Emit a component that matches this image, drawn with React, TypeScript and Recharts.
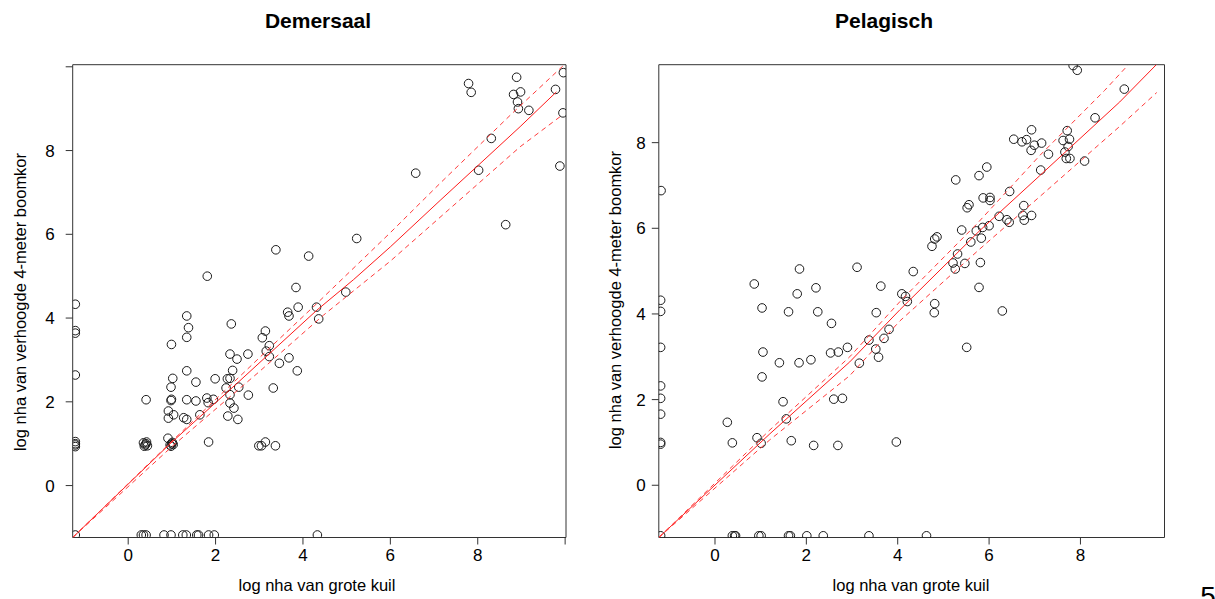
import { ScatterChart, Scatter, XAxis, YAxis } from "recharts";

// points (log nha grote kuil, log nha boomkor)
const demersaalPoints: [number, number][] = [
  [7.79, 9.6], [7.85, 9.39], [8.89, 9.75], [8.82, 9.34], [8.98, 9.4], [8.91, 9.16],
  [8.93, 9.0], [9.17, 8.96], [9.96, 9.86], [9.78, 9.46], [9.95, 8.9], [8.31, 8.29],
  [8.02, 7.53], [6.58, 7.46], [9.88, 7.63], [8.64, 6.23], [5.23, 5.9], [3.38, 5.63],
  [4.13, 5.48], [1.81, 5.0], [3.84, 4.73], [4.98, 4.62],
  [-1.21, 4.33], [-1.21, 3.7], [-1.21, 3.64], [-1.21, 2.64], [-1.21, 1.05], [-1.21, 1.0],
  [-1.21, 0.97], [-1.21, 0.93], [-1.21, -1.18],
  [0.35, 1.02], [0.39, 0.97], [0.42, 1.04], [0.44, 0.95], [0.37, 0.94], [0.41, 1.0],
  [0.41, 2.05],
  [0.96, 0.97], [1.0, 1.0], [1.03, 0.98], [0.98, 0.94], [1.01, 1.03], [0.91, 1.13],
  [0.92, 1.78], [0.92, 1.61], [1.04, 1.69], [0.98, 2.03], [0.99, 2.06], [1.02, 2.56],
  [0.98, 2.35], [0.99, 3.37],
  [1.34, 4.05], [1.38, 3.77], [1.34, 3.54], [1.34, 2.74], [1.34, 2.05], [1.27, 1.62],
  [1.34, 1.58],
  [1.55, 2.47], [1.55, 2.02], [1.64, 1.69], [1.8, 2.09], [1.83, 1.98], [1.95, 2.06],
  [1.84, 1.04], [1.99, 2.55],
  [2.36, 3.86], [2.33, 3.14], [2.49, 3.02], [2.74, 3.14], [2.39, 2.75], [2.27, 2.55],
  [2.33, 2.56], [2.24, 2.33], [2.33, 2.17], [2.53, 2.35], [2.33, 1.97], [2.42, 1.85],
  [2.28, 1.66], [2.51, 1.58], [2.75, 2.16],
  [3.07, 3.53], [3.14, 3.69], [3.23, 3.34], [3.16, 3.21], [3.23, 3.08], [3.46, 2.92],
  [3.32, 2.33], [3.68, 3.05], [3.87, 2.74], [3.65, 4.14], [3.68, 4.05], [3.89, 4.26],
  [4.31, 4.26], [4.36, 3.98],
  [2.99, 0.95], [3.05, 0.95], [3.14, 1.04], [3.37, 0.95],
  [0.3, -1.18], [0.35, -1.18], [0.41, -1.18], [0.82, -1.18], [0.98, -1.18], [1.25, -1.18],
  [1.33, -1.18], [1.57, -1.18], [1.61, -1.18], [1.84, -1.18], [1.97, -1.18], [4.33, -1.18],
];

const pelagischPoints: [number, number][] = [
  [-1.18, 6.88], [7.84, 9.8], [7.93, 9.69], [8.96, 9.25], [8.32, 8.58], [6.93, 8.3],
  [6.54, 8.08], [6.72, 8.02], [6.82, 8.07], [6.99, 7.94], [7.15, 7.99], [6.92, 7.82],
  [7.3, 7.73], [7.13, 7.36], [7.71, 8.28], [7.62, 8.05], [7.76, 8.08], [7.73, 7.91],
  [7.66, 7.78], [7.69, 7.63], [7.77, 7.63], [8.09, 7.57], [5.95, 7.43], [5.78, 7.23],
  [5.27, 7.13], [5.87, 6.71], [6.02, 6.72], [6.02, 6.65], [6.45, 6.86], [5.56, 6.55],
  [5.52, 6.48], [6.76, 6.53], [6.22, 6.28], [6.39, 6.2], [6.44, 6.14], [6.74, 6.3],
  [6.93, 6.3], [6.77, 6.19], [6.0, 6.06], [5.86, 6.02], [5.72, 5.94], [5.4, 5.96],
  [5.83, 5.77], [5.6, 5.68], [4.86, 5.8], [4.81, 5.75], [4.75, 5.58], [5.31, 5.4],
  [5.21, 5.19], [5.47, 5.18], [5.81, 5.2], [5.26, 5.05], [5.78, 4.62], [4.34, 4.99],
  [3.11, 5.09], [1.85, 5.05], [0.86, 4.7], [2.21, 4.61], [1.8, 4.47], [3.63, 4.65],
  [4.09, 4.47], [4.17, 4.41],
  [-1.19, 4.32], [-1.19, 4.06], [-1.19, 3.22], [-1.19, 2.32], [-1.19, 2.03], [-1.19, 1.66],
  [-1.19, 1.0], [-1.19, 0.96], [-1.19, -1.18],
  [1.03, 4.14], [1.61, 4.05], [2.25, 4.05], [2.55, 3.78], [1.05, 3.11], [1.41, 2.86],
  [1.84, 2.86], [2.1, 2.93], [1.03, 2.53], [2.53, 3.09], [2.7, 3.11], [2.9, 3.22],
  [3.16, 2.85], [3.37, 3.39], [3.52, 3.18], [3.58, 2.99], [3.7, 3.43], [3.81, 3.64],
  [3.53, 4.03], [4.21, 4.29], [4.81, 4.24], [4.8, 4.03], [6.29, 4.07], [5.51, 3.22],
  [1.49, 1.95], [1.56, 1.55], [0.27, 1.47], [0.38, 0.99], [0.92, 1.11], [1.01, 0.98],
  [1.67, 1.04], [2.16, 0.93], [2.69, 0.93], [2.6, 2.01], [2.79, 2.03], [3.97, 1.01],
  [0.38, -1.18], [0.43, -1.18], [0.45, -1.18], [0.96, -1.18], [1.01, -1.18], [1.61, -1.18],
  [1.65, -1.18], [2.01, -1.18], [2.37, -1.18], [3.37, -1.18], [4.63, -1.18],
];

// fitted line and its band
const demersaalFit: [number, number][] = [
  [-1.27, -1.24], [0.96, 1.0], [2.5, 2.45], [4.32, 4.19], [5.16, 4.92], [6.0, 5.7],
  [7.14, 6.81], [8.97, 8.57], [9.8, 9.4],
];
const demersaalUpper: [number, number][] = [
  [-1.27, -1.24], [1.0, 1.06], [3.0, 3.05], [4.32, 4.35], [6.0, 6.04], [7.14, 7.22],
  [8.78, 8.88], [9.96, 10.03],
];
const demersaalLower: [number, number][] = [
  [-1.27, -1.24], [1.0, 0.93], [3.0, 2.72], [4.47, 4.07], [6.0, 5.36], [7.37, 6.62],
  [8.97, 8.09], [9.95, 8.86],
];

const pelagischFit: [number, number][] = [
  [-1.23, -1.22], [1.2, 1.2], [2.95, 2.88], [4.05, 4.1], [5.8, 5.95], [7.11, 7.23],
  [8.86, 8.95], [9.67, 9.83],
];
const pelagischUpper: [number, number][] = [
  [-1.23, -1.22], [1.2, 1.29], [2.95, 3.0], [4.05, 4.29], [5.73, 6.1], [7.11, 7.7],
  [8.53, 9.22], [9.04, 9.81],
];
const pelagischLower: [number, number][] = [
  [-1.23, -1.22], [1.2, 1.06], [2.95, 2.56], [4.05, 3.84], [5.8, 5.52], [7.11, 6.74],
  [8.86, 8.38], [9.67, 9.17],
];

const demersaalTicks = [0, 2, 4, 6, 8, 10];
const pelagischTicks = [0, 2, 4, 6, 8];

const FONT = "'Liberation Sans', Arial, sans-serif";
const toXY = (pts: [number, number][]) => pts.map(([x, y]) => ({ x, y }));

const OpenCircle = (props: any) => (
  <circle cx={props.cx} cy={props.cy} r={4.3} fill="none" stroke="#1a1a1a" strokeWidth={1} />
);
const NoDot = () => <g />;

const tickStyle = { fontSize: 17, fill: "#000", fontFamily: FONT };
const hideTen = (v: number) => (v === 10 ? "" : String(v));

function Panel(props: {
  left: number;
  width: number;
  margin: { top: number; right: number; bottom: number; left: number };
  xDomain: [number, number];
  yDomain: [number, number];
  ticks: number[];
  yTickMargin: number;
  points: [number, number][];
  fit: [number, number][];
  upper: [number, number][];
  lower: [number, number][];
}) {
  const { xDomain, yDomain, ticks } = props;
  return (
    <div style={{ position: "absolute", left: props.left, top: 0 }}>
      <ScatterChart width={props.width} height={599} margin={props.margin}>
        <XAxis
          xAxisId="b"
          type="number"
          dataKey="x"
          domain={xDomain}
          ticks={ticks}
          allowDataOverflow
          height={30}
          tickSize={7}
          tickMargin={4}
          tick={tickStyle}
          tickFormatter={hideTen}
          stroke="#333"
        />
        <XAxis
          xAxisId="t"
          orientation="top"
          type="number"
          dataKey="x"
          domain={xDomain}
          ticks={ticks}
          allowDataOverflow
          height={10}
          tickSize={7}
          tick={false}
          stroke="#333"
        />
        <YAxis
          yAxisId="l"
          type="number"
          dataKey="y"
          domain={yDomain}
          ticks={ticks}
          allowDataOverflow
          width={50}
          tickSize={7}
          tickMargin={props.yTickMargin}
          tick={tickStyle}
          tickFormatter={hideTen}
          stroke="#333"
        />
        <YAxis
          yAxisId="r"
          orientation="right"
          type="number"
          dataKey="y"
          domain={yDomain}
          ticks={ticks}
          allowDataOverflow
          width={10}
          tickSize={7}
          tick={false}
          stroke="#333"
        />
        <Scatter xAxisId="b" yAxisId="l" data={toXY(props.points)} shape={OpenCircle} isAnimationActive={false} />
        <Scatter xAxisId="b" yAxisId="l" data={toXY(props.fit)} shape={NoDot}
          line={{ stroke: "#ff1a1a", strokeWidth: 1 }} isAnimationActive={false} />
        <Scatter xAxisId="b" yAxisId="l" data={toXY(props.upper)} shape={NoDot}
          line={{ stroke: "#ff3b3b", strokeWidth: 1, strokeDasharray: "5 4" }} isAnimationActive={false} />
        <Scatter xAxisId="b" yAxisId="l" data={toXY(props.lower)} shape={NoDot}
          line={{ stroke: "#ff3b3b", strokeWidth: 1, strokeDasharray: "5 4" }} isAnimationActive={false} />
        <Scatter xAxisId="t" yAxisId="r" data={[]} isAnimationActive={false} />
      </ScatterChart>
    </div>
  );
}

const textAt = (x: number, y: number, extra: any = {}) => ({
  position: "absolute" as const,
  left: x,
  top: y,
  transform: "translate(-50%, -50%)" + (extra.rotate ? " rotate(-90deg)" : ""),
  whiteSpace: "nowrap" as const,
  fontFamily: FONT,
  fontSize: extra.size || 16.5,
  fontWeight: extra.bold ? 700 : 400,
  color: "#000",
});

export default function App() {
  return (
    <div
      style={{
        position: "absolute",
        left: 0,
        top: 0,
        width: 1215,
        height: 599,
        background: "#fff",
        overflow: "hidden",
      }}
    >
      <Panel
        left={0}
        width={600}
        margin={{ top: 54.7, right: 24, bottom: 31.5, left: 22.7 }}
        xDomain={[-1.27, 10.02]}
        yDomain={[-1.24, 10.05]}
        ticks={demersaalTicks}
        yTickMargin={11}
        points={demersaalPoints}
        fit={demersaalFit}
        upper={demersaalUpper}
        lower={demersaalLower}
      />
      <Panel
        left={600}
        width={615}
        margin={{ top: 54.7, right: 40.5, bottom: 31.5, left: 8.8 }}
        xDomain={[-1.23, 9.84]}
        yDomain={[-1.22, 9.82]}
        ticks={pelagischTicks}
        yTickMargin={6}
        points={pelagischPoints}
        fit={pelagischFit}
        upper={pelagischUpper}
        lower={pelagischLower}
      />
      <div style={textAt(318, 21, { bold: true, size: 21 })}>Demersaal</div>
      <div style={textAt(884, 21, { bold: true, size: 21 })}>Pelagisch</div>
      <div style={textAt(317, 585)}>log nha van grote kuil</div>
      <div style={textAt(911, 585)}>log nha van grote kuil</div>
      <div style={textAt(20, 302, { rotate: true })}>log nha van verhoogde 4-meter boomkor</div>
      <div style={textAt(615, 300, { rotate: true })}>log nha van verhoogde 4-meter boomkor</div>
      <div style={textAt(1208, 597, { size: 28 })}>5</div>
    </div>
  );
}
